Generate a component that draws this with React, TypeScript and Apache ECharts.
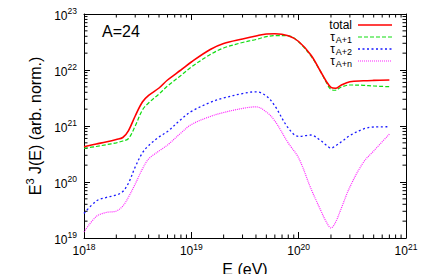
import { useEffect, useRef } from "react";
import * as echarts from "echarts";

// Energies (eV) at which the curves were read
const energy = [
  1e18, 1.3e18, 1.6e18, 2e18, 2.3e18, 2.6e18, 3e18, 3.5e18, 4e18, 5e18, 6e18, 8e18,
  1e19, 1.5e19, 2e19, 3e19, 4e19, 5e19, 6e19, 8e19,
  1e20, 1.3e20, 1.6e20, 1.8e20, 2e20, 2.2e20, 2.5e20, 3e20, 4e20, 5e20, 7e20,
];
const total = [
  4.27e20, 4.77e20, 5.18e20, 5.74e20, 6.23e20, 8.3e20, 1.51e21, 2.68e21, 3.51e21, 4.77e21, 6.63e21, 1.0e22,
  1.39e22, 2.32e22, 2.97e22, 3.58e22, 4.05e22, 4.39e22, 4.43e22, 4.08e22,
  3.23e22, 1.85e22, 9.4e21, 6.37e21, 4.88e21, 4.71e21, 5.4e21, 6.15e21, 6.41e21, 6.52e21, 6.63e21,
];
const tauA1 = [
  4.0e20, 4.31e20, 4.62e20, 5.01e20, 5.4e20, 5.98e20, 1.0e21, 1.93e21, 2.58e21, 3.73e21, 5.18e21, 7.98e21,
  1.13e22, 1.89e22, 2.47e22, 3.1e22, 3.51e22, 3.94e22, 4.11e22, 4.08e22,
  3.16e22, 1.78e22, 9.4e21, 6.11e21, 4.49e21, 4.35e21, 4.97e21, 5.4e21, 5.33e21, 5.18e21, 5.03e21,
];
const tauA2 = [
  2.74e19, 4.58e19, 5.28e19, 5.86e19, 6.76e19, 9.6e19, 1.85e20, 3.3e20, 4.49e20, 6.37e20, 7.98e20, 1.31e21,
  1.82e21, 2.63e21, 3.16e21, 3.8e21, 4.08e21, 3.43e21, 2.28e21, 9.2e20,
  6.5e20, 6.9e20, 5.51e20, 4.58e20, 4.02e20, 4.4e20, 5.22e20, 6.76e20, 8.83e20, 9.6e20, 9.7e20,
];
const tauAn = [
  1.28e19, 2.42e19, 2.85e19, 3.03e19, 3.73e19, 5.4e19, 9.2e19, 1.71e20, 2.58e20, 3.58e20, 4.58e20, 7.5e20,
  1.06e21, 1.48e21, 1.74e21, 2.06e21, 2.2e21, 1.78e21, 1.23e21, 4.97e20,
  2.68e20, 7.65e19, 3.16e19, 1.97e19, 1.51e19, 1.89e19, 3.43e19, 8.15e19, 2.23e20, 3.58e20, 7.19e20,
];

const seriesNames = ["total", "τA+1", "τA+2", "τA+n"];
// legend text: main part and subscript part
const legendMain = ["total", "τ", "τ", "τ"];
const legendSub = ["", "A+1", "A+2", "A+n"];

const X_MIN = 1e18;
const X_MAX = 1e21;
const Y_MIN = 1e19;
const Y_MAX = 1e23;
const xDecades = [1e18, 1e19, 1e20];
const yDecades = [1e19, 1e20, 1e21, 1e22];
const minorSteps = [2, 3, 4, 5, 6, 7, 8, 9];

const font = "'Liberation Sans', Arial, Helvetica, sans-serif";

const lineStyles = [
  { color: "#ff0000", width: 1.6, dash: null as number[] | null },
  { color: "#11dd11", width: 1.2, dash: [4, 2] },
  { color: "#1a1aff", width: 1.3, dash: [2, 2.5] },
  { color: "#ff22ff", width: 1.2, dash: [1, 1] },
];

const pairs = (vals: number[]) => energy.map((e, i) => [e, vals[i]]);

const xMinor: number[][] = [];
xDecades.forEach((d) => minorSteps.forEach((m) => xMinor.push([d * m, Y_MIN])));
const yMinor: number[][] = [];
yDecades.forEach((d) => minorSteps.forEach((m) => yMinor.push([X_MIN, d * m])));

const tickRich = {
  b: { fontSize: 12, fontFamily: font, color: "#000", padding: [3, 0, 0, 0] },
  s: { fontSize: 8.5, fontFamily: font, color: "#000", verticalAlign: "top" },
};
const expLabel = (v: number) => `{b|10}{s|${Math.round(Math.log10(v))}}`;

const MINOR_LEN = 3.5;

export default function App() {
  const ref = useRef<HTMLDivElement>(null);
  useEffect(() => {
    if (!ref.current) return;
    const chart = echarts.init(ref.current, null, { renderer: "svg" });
    const axisLine = { show: true, onZero: false, lineStyle: { color: "#000", width: 1 } };
    const axisTick = { show: true, inside: true, length: 6, lineStyle: { color: "#000", width: 1 } };
    const seriesData = [total, tauA1, tauA2, tauAn];
    const lineSeries = seriesData.map((vals, i) => ({
      type: "line",
      name: seriesNames[i],
      data: pairs(vals),
      xAxisIndex: 0,
      yAxisIndex: 0,
      showSymbol: false,
      symbol: "none",
      smooth: 0.35,
      z: 6 - i,
      itemStyle: { color: lineStyles[i].color },
      lineStyle: {
        color: lineStyles[i].color,
        width: lineStyles[i].width,
        type: lineStyles[i].dash || "solid",
      },
    }));

    const legendRowsY = [25, 37, 49, 61];
    const TEXT_RIGHT = 352;
    const SUB_W = 17;
    const legendGraphics: any[] = [];
    seriesNames.forEach((_, i) => {
      const y = legendRowsY[i];
      const hasSub = legendSub[i] !== "";
      legendGraphics.push({
        type: "text",
        x: hasSub ? TEXT_RIGHT - SUB_W : TEXT_RIGHT,
        y: hasSub ? y - 0.5 : y - 0.5,
        style: {
          text: legendMain[i],
          align: "right",
          verticalAlign: "middle",
          fontSize: 12,
          lineHeight: 10,
          fontFamily: font,
          fill: "#000",
        },
      });
      if (hasSub) {
        legendGraphics.push({
          type: "text",
          x: TEXT_RIGHT,
          y: y + 2.5,
          style: {
            text: legendSub[i],
            align: "right",
            verticalAlign: "middle",
            fontSize: 9,
            lineHeight: 8,
            fontFamily: font,
            fill: "#000",
          },
        });
      }
      legendGraphics.push({
        type: "line",
        shape: { x1: 358, y1: y, x2: 392, y2: y },
        style: {
          stroke: lineStyles[i].color,
          lineWidth: lineStyles[i].width,
          lineDash: lineStyles[i].dash || undefined,
        },
      });
    });

    chart.setOption({
      animation: false,
      backgroundColor: "#fff",
      grid: { left: 84, top: 14, width: 322, height: 224, containLabel: false, outerBoundsMode: "none" },
      xAxis: [
        {
          type: "log",
          logBase: 10,
          min: X_MIN,
          max: X_MAX,
          position: "bottom",
          axisLine,
          axisTick,
          splitLine: { show: false },
          minorTick: { show: false },
          axisLabel: { formatter: expLabel, margin: 4, rich: tickRich },
          name: "E (eV)",
          nameLocation: "middle",
          nameGap: 23,
          nameTextStyle: { fontSize: 16, fontFamily: font, color: "#000", verticalAlign: "top" },
        },
        {
          type: "log",
          logBase: 10,
          min: X_MIN,
          max: X_MAX,
          position: "top",
          axisLine,
          axisTick,
          splitLine: { show: false },
          axisLabel: { show: false },
        },
      ],
      yAxis: [
        {
          type: "log",
          logBase: 10,
          min: Y_MIN,
          max: Y_MAX,
          position: "left",
          axisLine,
          axisTick,
          splitLine: { show: false },
          minorTick: { show: false },
          axisLabel: { formatter: expLabel, margin: 7, rich: tickRich },
          name: "{b|E}{s|3}{b| J(E) (arb. norm.)}",
          nameLocation: "middle",
          nameRotate: 90,
          nameGap: 37,
          nameTextStyle: {
            color: "#000",
            rich: {
              b: { fontSize: 16, fontFamily: font, color: "#000", padding: [3, 0, 0, 0] },
              s: { fontSize: 11, fontFamily: font, color: "#000", verticalAlign: "top" },
            },
          },
        },
        {
          type: "log",
          logBase: 10,
          min: Y_MIN,
          max: Y_MAX,
          position: "right",
          axisLine,
          axisTick,
          splitLine: { show: false },
          axisLabel: { show: false },
        },
      ],
      graphic: [
        {
          type: "text",
          left: 102,
          top: 23,
          style: { text: "A=24", fontSize: 16, fontFamily: font, fill: "#000" },
        },
        ...legendGraphics,
      ],
      series: [
        ...lineSeries,
        {
          type: "custom",
          name: "xminor",
          xAxisIndex: 0,
          yAxisIndex: 0,
          silent: true,
          clip: false,
          data: xMinor,
          renderItem: (_p: any, api: any) => {
            const v = api.value(0);
            const b = api.coord([v, Y_MIN]);
            const t = api.coord([v, Y_MAX]);
            const st = { stroke: "#000", lineWidth: 1 };
            return {
              type: "group",
              children: [
                { type: "line", shape: { x1: b[0], y1: b[1], x2: b[0], y2: b[1] - MINOR_LEN }, style: st },
                { type: "line", shape: { x1: t[0], y1: t[1], x2: t[0], y2: t[1] + MINOR_LEN }, style: st },
              ],
            };
          },
        },
        {
          type: "custom",
          name: "yminor",
          xAxisIndex: 0,
          yAxisIndex: 0,
          silent: true,
          clip: false,
          data: yMinor,
          renderItem: (_p: any, api: any) => {
            const v = api.value(1);
            const l = api.coord([X_MIN, v]);
            const r = api.coord([X_MAX, v]);
            const st = { stroke: "#000", lineWidth: 1 };
            return {
              type: "group",
              children: [
                { type: "line", shape: { x1: l[0], y1: l[1], x2: l[0] + MINOR_LEN, y2: l[1] }, style: st },
                { type: "line", shape: { x1: r[0], y1: r[1], x2: r[0] - MINOR_LEN, y2: r[1] }, style: st },
              ],
            };
          },
        },
      ],
    });
    return () => chart.dispose();
  }, []);
  return (
    <div
      ref={ref}
      style={{ position: "fixed", left: 0, top: 0, width: 426, height: 274, background: "#fff" }}
    />
  );
}
